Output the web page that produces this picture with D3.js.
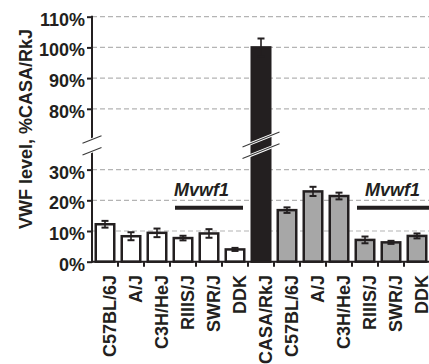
<!DOCTYPE html>
<html>
<head>
<meta charset="utf-8">
<script src="https://cdn.jsdelivr.net/npm/d3@7"></script>
<style>
  html, body { margin: 0; padding: 0; background: #fff; }
  svg { display: block; }
  text { font-family: "Liberation Sans", Arial, sans-serif; font-weight: bold; fill: #231f20; }
</style>
</head>
<body>
<svg id="chart" width="429" height="364"></svg>
<script>
// Strains, VWF levels (% of CASA/RkJ) and SEM
const strains = ["C57BL/6J", "A/J", "C3H/HeJ", "RIIIS/J", "SWR/J", "DDK"];
const referenceStrain = "CASA/RkJ";
const whiteValues = [12.2, 8.3, 9.4, 7.7, 9.2, 4.0];
const whiteErrors = [1.1, 1.3, 1.4, 0.75, 1.4, 0.5];
const referenceValue = 100;
const referenceError = 2.9;
const grayValues = [16.8, 22.9, 21.4, 7.1, 6.3, 8.4];
const grayErrors = [0.9, 1.5, 1.1, 1.1, 0.5, 0.8];
const upperTicks = [80, 90, 100, 110];
const lowerTicks = [0, 10, 20, 30];
const yTitle = "VWF level, %CASA/RkJ";
const locusLabel = "Mvwf1";
const locusSpans = [[3, 5], [10, 12]]; // first and last bar index under each label

const rows = [
  ...strains.map((s, i) => ({ name: s, value: whiteValues[i], err: whiteErrors[i], group: "white" })),
  { name: referenceStrain, value: referenceValue, err: referenceError, group: "black" },
  ...strains.map((s, i) => ({ name: s, value: grayValues[i], err: grayErrors[i], group: "gray" }))
];
const fills = { white: "#ffffff", black: "#231f20", gray: "#a7a7a7" };
const ink = "#231f20";

const svg = d3.select("#chart");
const W = 429;
const axisX = 92;

// x: one band per bar
const x = d3.scaleBand().domain(d3.range(rows.length)).range([axisX, 430]).padding(0);
const barW = 18.5;

// broken y axis: two linear pieces with the same px-per-percent
const yHigh = d3.scaleLinear().domain([70, 110]).range([139.5, 16.7]);
const yLow = d3.scaleLinear().domain([0, 36]).range([261.7, 151.2]);
const y = v => (v > 50 ? yHigh(v) : yLow(v));
const breakTop = yHigh(70), breakBot = yLow(36);

// dashed gridlines
const gridVals = [...upperTicks, ...lowerTicks.filter(v => v > 0)];
svg.append("g").selectAll("line").data(gridVals).join("line")
  .attr("x1", axisX).attr("x2", W)
  .attr("y1", d => y(d)).attr("y2", d => y(d))
  .attr("stroke", "#b4b4b4").attr("stroke-width", 1.2)
  .attr("stroke-dasharray", "5,3");

// bars
svg.append("g").selectAll("rect").data(rows).join("rect")
  .attr("x", (d, i) => x(i) + (x.bandwidth() - barW) / 2)
  .attr("width", barW)
  .attr("y", d => y(d.value))
  .attr("height", d => y(0) - y(d.value))
  .attr("fill", d => fills[d.group])
  .attr("stroke", ink).attr("stroke-width", 2.5);

// error bars
const eb = svg.append("g").selectAll("g").data(rows).join("g")
  .attr("transform", (d, i) => `translate(${x(i) + x.bandwidth() / 2},0)`);
eb.append("line")
  .attr("y1", d => y(d.value - d.err)).attr("y2", d => y(d.value + d.err))
  .attr("stroke", ink).attr("stroke-width", 1.6);
eb.selectAll("line.cap").data(d => [d.value - d.err, d.value + d.err]).join("line")
  .attr("class", "cap")
  .attr("x1", -3.5).attr("x2", 3.5)
  .attr("y1", v => y(v)).attr("y2", v => y(v))
  .attr("stroke", ink).attr("stroke-width", 2);

// y axes (upper and lower pieces)
const fmt = d => d + "%";
function drawYAxis(scale, ticks) {
  const g = svg.append("g").attr("transform", `translate(${axisX},0)`)
    .call(d3.axisLeft(scale).tickValues(ticks).tickFormat(fmt).tickSize(5).tickSizeOuter(0).tickPadding(2));
  g.select(".domain").remove();
  g.selectAll(".tick line").attr("stroke", ink).attr("stroke-width", 2);
  g.selectAll(".tick text").attr("font-size", 18).attr("dy", "0.47em")
    .style("font-family", "'Liberation Sans', Arial, sans-serif").style("font-weight", "bold").attr("fill", ink);
}
drawYAxis(yHigh, upperTicks);
drawYAxis(yLow, lowerTicks);

// axis spine, interrupted at the break
svg.append("line").attr("x1", axisX).attr("x2", axisX)
  .attr("y1", y(110) - 1).attr("y2", breakTop)
  .attr("stroke", ink).attr("stroke-width", 2);
svg.append("line").attr("x1", axisX).attr("x2", axisX)
  .attr("y1", breakBot).attr("y2", y(0) + 1)
  .attr("stroke", ink).attr("stroke-width", 2);

// baseline and category separator ticks
svg.append("line").attr("x1", axisX - 1).attr("x2", W)
  .attr("y1", y(0)).attr("y2", y(0))
  .attr("stroke", ink).attr("stroke-width", 2);
svg.append("g").selectAll("line").data(d3.range(1, rows.length)).join("line")
  .attr("x1", i => x(i)).attr("x2", i => x(i))
  .attr("y1", y(0)).attr("y2", y(0) + 5)
  .attr("stroke", ink).attr("stroke-width", 2);

// break marks on the spine and across the reference bar
function breakMarks(cx, half) {
  const slope = 0.4;
  [breakTop, breakBot].forEach(yc => {
    const pts = [cx - half, yc + slope * half, cx + half, yc - slope * half];
    svg.append("line").attr("x1", pts[0]).attr("y1", pts[1]).attr("x2", pts[2]).attr("y2", pts[3])
      .attr("stroke", "#fff").attr("stroke-width", 3);
    svg.append("line").attr("x1", pts[0]).attr("y1", pts[1]).attr("x2", pts[2]).attr("y2", pts[3])
      .attr("stroke", "#3a3a3a").attr("stroke-width", 1.1);
  });
}
breakMarks(axisX, 9.5);
const refIndex = rows.findIndex(d => d.group === "black");
breakMarks(x(refIndex) + x.bandwidth() / 2, 18.5);

// locus annotations
locusSpans.forEach(([a, b], k) => {
  const x0 = x(a) + 5, x1 = k === locusSpans.length - 1 ? W + 1 : x(b) + x.bandwidth() - 5;
  svg.append("line").attr("x1", x0).attr("x2", x1)
    .attr("y1", y(17.6)).attr("y2", y(17.6))
    .attr("stroke", ink).attr("stroke-width", 4);
  svg.append("text").attr("x", k === 0 ? x0 - 1 : x(a) + 13)
    .attr("y", y(21.3))
    .attr("font-size", 18).attr("font-style", "italic")
    .text(locusLabel);
});

// category labels, rotated
svg.append("g").selectAll("text").data(rows).join("text")
  .attr("transform", (d, i) => `translate(${x(i) + x.bandwidth() / 2 + 11},275) rotate(-90)`)
  .attr("text-anchor", "end")
  .attr("font-size", 18)
  .text(d => d.name);

// y title
svg.append("text")
  .attr("transform", "translate(31.5,129) rotate(-90)")
  .attr("text-anchor", "middle")
  .attr("font-size", 18)
  .text(yTitle);
</script>
</body>
</html>
